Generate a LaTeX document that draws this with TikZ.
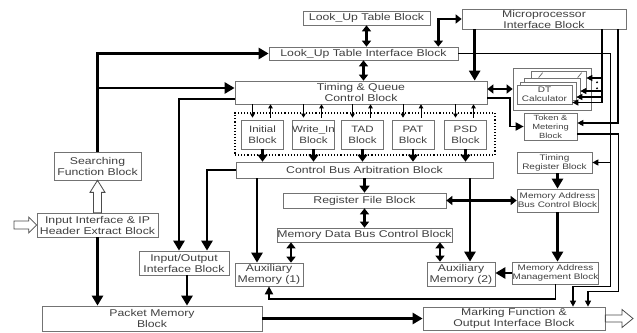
\documentclass[tikz,border=0pt]{standalone}
\usepackage{fontspec}
\setmainfont{Liberation Sans}[FakeStretch=1.25]
\usetikzlibrary{arrows.meta,calc}

\begin{document}
\begin{tikzpicture}[x=1pt,y=-1pt,
  font=\fontsize{9.8}{11}\selectfont,
  blk/.style={rectangle, draw=black!55, line width=0.7pt, fill=white, inner sep=0pt, align=center, text=black!75},
  sml/.style={blk, font=\fontsize{8}{9}\selectfont},
  thk/.style={line width=2.6pt, -{Triangle[length=10pt,width=11pt]}},
  thks/.style={line width=2.6pt, -{Triangle[length=7pt,width=10pt]}},
  thkd/.style={line width=2.6pt, {Triangle[length=6pt,width=9pt]}-{Triangle[length=6pt,width=9pt]}},
  med/.style={line width=1.8pt, -{Triangle[length=8pt,width=8pt]}},
  thn/.style={line width=1.1pt, -{Triangle[length=6pt,width=6pt]}},
  tny/.style={line width=0.8pt, -{Triangle[length=4pt,width=4.5pt]}},
  hol/.style={draw=black!70, line width=0.8pt, fill=white}
  ]
  \useasboundingbox (0,0) rectangle (637,332);

  \node[blk, minimum width=127, minimum height=14] (lut) at (366.5,18) {Look\_Up Table Block};
  \node[blk, minimum width=164, minimum height=20] (micro) at (544,19) {Microprocessor\\Interface Block};
  \node[blk, minimum width=189, minimum height=13] (lutif) at (363.5,53.5) {Look\_Up Table Interface Block};
  \node[blk, minimum width=252, minimum height=23] (tq) at (361,92.5) {Timing \& Queue\\Control Block};

  \node[draw, dotted, line width=1.1pt, minimum width=260, minimum height=42] (fnbox) at (365,134) {};
  \foreach \n/\x/\t in {fini/262.5/Initial, fwri/313.5/Write\_In, ftad/362.5/TAD, fpat/413/PAT, fpsd/465.5/PSD}
    \node[blk, font=\fontsize{9.2}{11}\selectfont, minimum width=42, minimum height=29] (\n) at (\x,134.5) {\t\\Block};

  \node[blk, minimum width=257, minimum height=16] (cba) at (364.5,170) {Control Bus Arbitration Block};
  \node[blk, minimum width=163, minimum height=15] (reg) at (364.5,200.5) {Register File Block};
  \node[blk, minimum width=175, minimum height=14] (mdb) at (364.5,235) {Memory Data Bus Control Block};
  \node[blk, minimum width=68, minimum height=23] (aux1) at (269,274.5) {Auxiliary\\Memory (1)};
  \node[blk, minimum width=68, minimum height=24] (aux2) at (461,274) {Auxiliary\\Memory (2)};
  \node[blk, minimum width=90, minimum height=24] (io) at (184,263) {Input/Output\\Interface Block};
  \node[blk, minimum width=220, minimum height=25] (pkt) at (152,318.5) {Packet Memory\\Block};
  \node[blk, minimum width=182, minimum height=23] (mark) at (514,318.5) {Marking Function \&\\Output Interface Block};
  \node[blk, minimum width=87, minimum height=28] (srch) at (97.5,166) {Searching\\Function Block};
  \node[blk, minimum width=121, minimum height=24] (inif) at (97.5,225) {Input Interface \& IP\\Header Extract Block};

  \node[blk, minimum width=78, minimum height=42] (dtf) at (552,89) {};
  \node[blk, minimum width=55, minimum height=20] (cardd) at (558.5,81) {};
  \draw[black!60, line width=0.7pt] ([xshift=8pt,yshift=-7pt]cardd.north west) -- ++(4,-5);
  \draw[black!60, line width=0.7pt] ([xshift=47pt,yshift=-7pt]cardd.north west) -- ++(4,-5);
  \node[blk, minimum width=56, minimum height=19] (cardc) at (552,87.5) {};
  \node[blk, minimum width=56, minimum height=18] (cardb) at (548,91) {};
  \node[sml, minimum width=55, minimum height=19] (carda) at (544.5,94.5) {DT\\Calculator};

  \node[sml, font=\fontsize{7.5}{9}\selectfont, minimum width=53, minimum height=27] (tok) at (550.5,126.5) {Token \&\\Metering\\Block};
  \node[sml, minimum width=75, minimum height=21] (treg) at (554.5,162.5) {Timing\\Register Block};
  \node[sml, minimum width=81, minimum height=23] (mabc) at (557.5,200.5) {Memory Address\\Bus Control Block};
  \node[sml, minimum width=85, minimum height=22] (mam) at (555.5,273) {Memory Address\\Management Block};

  \coordinate (inA) at (14,225);
  \coordinate (outA) at (633,318.5);
  \coordinate (tqin) at ([yshift=4.5pt]tq.west);
  \coordinate (mdt) at ([xshift=58pt]micro.south);
  \coordinate (rA) at ([xshift=59pt]mark.north);
  \coordinate (rB) at ([xshift=74pt]mark.north);

  \draw[thk] (srch.north) |- (lutif.west);
  \draw[thk] (srch.north |- tqin) -- (tqin);
  \draw[thk] ([yshift=-6.5pt]tq.west) -| ([xshift=-5pt]io.north);
  \draw[thk] (cba.west) -| ([xshift=23pt]io.north);

  \draw[thkd] (lut.south) -- (lut.south |- lutif.north);
  \draw[thkd] (lutif.south) -- (lutif.south |- tq.north);
  \draw[thkd] (micro.west) -| ([xshift=-20pt]lutif.north east);
  \draw[thk] ([xshift=13pt]micro.south west) -- ([xshift=13pt]micro.south west |- tq.north);
  \draw[thkd] (tq.east |- dtf.west) -- (dtf.west);
  \draw[med] ([yshift=-5.5pt]tq.east) -- ++(23,0) |- (tok.west);

  \foreach \c/\dy in {cardd/3, cardc/-3.5, cardb/-6, carda/-8} {
    \coordinate (tmp) at ([yshift=\dy pt]\c.east);
    \draw[thn] (mdt) |- (tmp);
  }
  \fill ($(mdt)+(-5,53)$) circle (1.1pt);
  \fill ($(mdt)+(-5,59)$) circle (1.1pt);
  \draw[thn] ([xshift=74pt]micro.south) |- ([yshift=3.5pt]tok.east);
  \draw[thn] (lutif.east) -- ++(152,0) coordinate (lk) |- ([yshift=20pt]rA) -- (rA);
  \draw[thn] (lk |- treg.east) -- (treg.east);
  \draw[thn] ([yshift=-7.5pt]tok.east) -- ++(41,0) |- ([yshift=15pt]rB) -- (rB);

  \foreach \b in {fini,fwri,ftad,fpat,fpsd} {
    \draw[thks] (\b.south) -- (\b.south |- cba.north);
    \draw[tny] ([xshift=-10pt]\b.north |- tq.south) -- ([xshift=-10pt,yshift=2pt]\b.north);
    \draw[tny] ([xshift=8pt,yshift=2pt]\b.north) -- ([xshift=8pt]\b.north |- tq.south);
  }

  \draw[thk] ([xshift=-12pt]aux1.north |- cba.south) -- ([xshift=-12pt]aux1.north);
  \draw[thks] (cba.south) -- (reg.north);
  \draw[thk] ([xshift=9pt]aux2.north |- cba.south) -- ([xshift=9pt]aux2.north);
  \draw[thkd] (reg.east) -- (reg.east -| mabc.west);
  \draw[thkd] (reg.south) -- (mdb.north);
  \draw[thkd] ([xshift=22pt]aux1.north |- mdb.south) -- ([xshift=22pt]aux1.north);
  \draw[thkd] ([xshift=-21pt]aux2.north |- mdb.south) -- ([xshift=-21pt]aux2.north);
  \draw[thk] (mabc.north |- treg.south) -- (mabc.north);
  \draw[thk] (mabc.south) -- (mabc.south |- mam.north);
  \draw[thk] (mam.west) -- (mam.west -| aux2.east);
  \draw[med] (mam.south) -- ++(0,15) -| (aux1.south);

  \draw[thk] (inif.south) -- (inif.south |- pkt.north);
  \draw[thk] ([xshift=3pt]io.south) -- ([xshift=3pt]io.south |- pkt.north);
  \draw[thk] (pkt.east) -- (mark.west);

  \draw[hol] ($(inif.north)+(-4,0)$) -- ($(srch.south)+(-4,12)$) -- ($(srch.south)+(-7.5,12)$) -- (srch.south)
    -- ($(srch.south)+(7.5,12)$) -- ($(srch.south)+(4,12)$) -- ($(inif.north)+(4,0)$) -- cycle;
  \draw[hol] ($(inA)+(0,-4)$) -- ($(inif.west)+(-8,-4)$) -- ($(inif.west)+(-8,-8)$) -- (inif.west)
    -- ($(inif.west)+(-8,8)$) -- ($(inif.west)+(-8,4)$) -- ($(inA)+(0,4)$) -- cycle;
  \draw[hol] ($(mark.east)+(0,-3.5)$) -- ($(outA)+(-11,-3.5)$) -- ($(outA)+(-11,-9)$) -- (outA)
    -- ($(outA)+(-11,9)$) -- ($(outA)+(-11,3.5)$) -- ($(mark.east)+(0,3.5)$) -- cycle;
\end{tikzpicture}
\end{document}
